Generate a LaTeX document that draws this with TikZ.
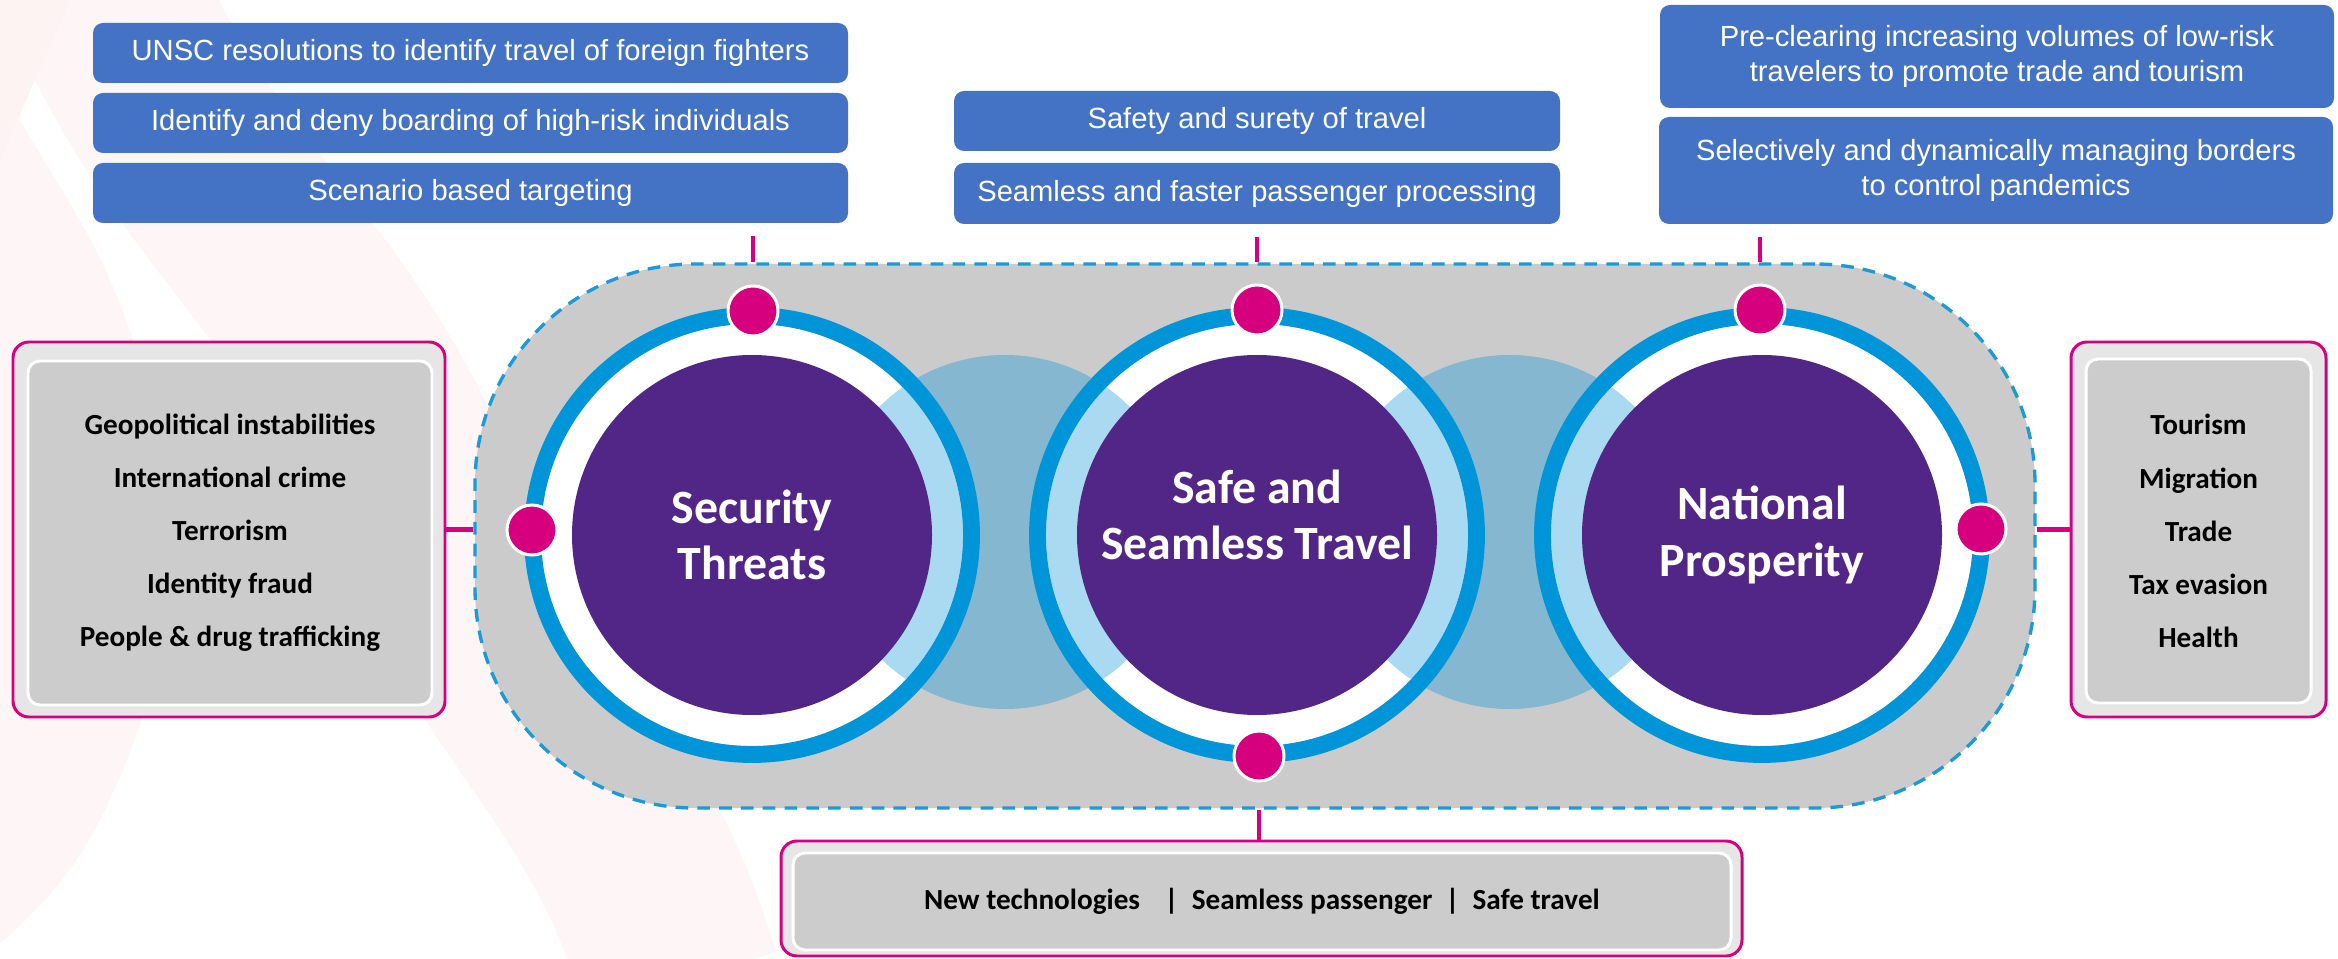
\documentclass[tikz,border=0pt]{standalone}
\usepackage{fontspec}
\setmainfont{Liberation Sans}
\newfontfamily\calib{Carlito}
\usetikzlibrary{calc}

\definecolor{boxblue}{RGB}{68,114,196}
\definecolor{hubgray}{RGB}{203,203,203}
\definecolor{dashblue}{RGB}{27,154,214}
\definecolor{ringblue}{RGB}{0,149,217}
\definecolor{paleblue}{RGB}{169,218,242}
\definecolor{tealblue}{RGB}{133,183,209}
\definecolor{deeppurple}{RGB}{82,38,134}
\definecolor{pinkline}{RGB}{214,0,127}
\definecolor{outergray}{RGB}{230,230,230}
\definecolor{innergray}{RGB}{204,204,204}
\definecolor{swoosh}{RGB}{253,245,246}

\begin{document}
\begin{tikzpicture}[
        tag/.style={fill=boxblue, rounded corners=0.1cm, text=white, inner sep=0pt,
            font=\fontsize{8.3}{10}\selectfont, align=center},
        panel/.style={draw=pinkline, line width=0.85pt, fill=outergray, rounded corners=0.16cm, inner sep=0pt},
        inset/.style={draw=white, line width=0.85pt, fill=innergray, rounded corners=0.12cm, inner sep=0pt,
            font=\calib\bfseries\fontsize{8.3}{15.1}\selectfont, align=center},
        hub/.style={draw=dashblue, fill=hubgray, line width=0.95pt, dash pattern=on 3.6pt off 2.6pt,
            rounded corners=2.2cm, inner sep=0pt},
        ring/.style={draw=ringblue, line width=4.8pt},
        core/.style={circle, fill=deeppurple, minimum size=3.6cm, inner sep=0pt},
        corelabel/.style={text=white, font=\calib\bfseries\fontsize{13.6}{16}\selectfont, align=center},
        dot/.style={circle, fill=pinkline, draw=white, line width=0.85pt, minimum size=0.5cm, inner sep=0pt},
        link/.style={pinkline, line width=1.3pt}
    ]
    \useasboundingbox (0,0) rectangle (23.38,-9.59);

    % faint background swooshes
    \fill[swoosh] (0,-9.43) to[out=40,in=-110] (1.43,-7.17)
        to[out=70,in=-90] (1.6,-5) to[out=90,in=-70] (1.26,-3.2)
        to[out=110,in=-60] (0.2,-1.2) -- (0,-1.2) -- cycle;
    \draw[swoosh, line width=2cm] (1.0,0.2) to[out=-68,in=112] (4.2,-5) to[out=-68,in=106] (6.8,-9.8);
    \fill[swoosh!80!pink!60] (0,0) -- (0.7,0) -- (0,-1.6) -- cycle;

    % hub
    \node[hub, minimum width=15.6cm, minimum height=5.44cm] (hub) at (12.55,-5.36) {};

    % overlaps between the circles
    \fill[tealblue] (10.045,-5.32) circle (1.77);
    \fill[tealblue] (15.095,-5.32) circle (1.77);

    % security threats
    \fill[white] (7.52,-5.35) circle (2.11);
    \begin{scope}
        \clip (7.52,-5.35) circle (2.11);
        \fill[paleblue] (10.045,-5.32) circle (1.77);
    \end{scope}
    \draw[ring] (7.52,-5.35) circle (2.195);
    \node[core] (threat) at (7.52,-5.35) {};
    \node[corelabel] (threatlabel) at (threat) {Security\\Threats};

    % safe and seamless travel
    \fill[white] (12.57,-5.35) circle (2.11);
    \begin{scope}
        \clip (12.57,-5.35) circle (2.11);
        \fill[paleblue] (10.045,-5.32) circle (1.77);
        \fill[paleblue] (15.095,-5.32) circle (1.77);
    \end{scope}
    \draw[ring] (12.57,-5.35) circle (2.195);
    \node[core] (travel) at (12.57,-5.35) {};
    \node[corelabel] (travellabel) at ($(travel)+(0,0.2)$) {Safe and\\Seamless Travel};

    % national prosperity
    \fill[white] (17.62,-5.35) circle (2.11);
    \begin{scope}
        \clip (17.62,-5.35) circle (2.11);
        \fill[paleblue] (15.095,-5.32) circle (1.77);
    \end{scope}
    \draw[ring] (17.62,-5.35) circle (2.195);
    \node[core] (prosper) at (17.62,-5.35) {};
    \node[corelabel] (prosperlabel) at (prosper) {National\\Prosperity};

    % dots on the rings
    \node[dot] (threattop) at ($(threat)+(0.01,2.24)$) {};
    \node[dot] (threatleft) at ($(threat)+(-2.2,0.05)$) {};
    \node[dot] (traveltop) at ($(travel)+(0,2.25)$) {};
    \node[dot] (travelbottom) at ($(travel)+(0.02,-2.21)$) {};
    \node[dot] (prospertop) at ($(prosper)+(-0.02,2.25)$) {};
    \node[dot] (prosperright) at ($(prosper)+(2.19,0.06)$) {};

    % blue tags
    \node[tag, minimum width=7.55cm, minimum height=0.6cm] (unsc) at (4.705,-0.53)
        {UNSC resolutions to identify travel of foreign fighters};
    \node[tag, minimum width=7.55cm, minimum height=0.6cm] (deny) at (4.705,-1.23)
        {Identify and deny boarding of high-risk individuals};
    \node[tag, minimum width=7.55cm, minimum height=0.6cm] (scenario) at (4.705,-1.93)
        {Scenario based targeting};

    \node[tag, minimum width=6.06cm, minimum height=0.6cm] (surety) at (12.57,-1.21)
        {Safety and surety of travel};
    \node[tag, minimum width=6.06cm, minimum height=0.61cm] (faster) at (12.57,-1.935)
        {Seamless and faster passenger processing};

    \node[tag, minimum width=6.74cm, minimum height=1.03cm] (preclear) at (19.97,-0.565)
        {Pre-clearing increasing volumes of low-risk\\travelers to promote trade and tourism};
    \node[tag, minimum width=6.74cm, minimum height=1.07cm] (pandemic) at (19.96,-1.705)
        {Selectively and dynamically managing borders\\to control pandemics};

    % gray panels
    \node[panel, minimum width=4.32cm, minimum height=3.75cm] (threatpanel) at (2.29,-5.295) {};
    \node[inset, minimum width=4.04cm, minimum height=3.44cm] (threatlist) at (2.30,-5.33)
        {Geopolitical instabilities\\International crime\\Terrorism\\Identity fraud\\People \& drug trafficking};

    \node[panel, minimum width=2.55cm, minimum height=3.75cm] (prosperpanel) at (21.985,-5.295) {};
    \node[inset, minimum width=2.25cm, minimum height=3.44cm] (prosperlist) at (21.985,-5.31)
        {Tourism\\Migration\\Trade\\Tax evasion\\Health};

    \node[panel, minimum width=9.61cm, minimum height=1.15cm] (travelpanel) at (12.615,-8.985) {};
    \node[inset, minimum width=9.38cm, minimum height=0.97cm] (travellist) at (12.62,-9.015)
        {New technologies \ \ \,|\ \ Seamless passenger \ |\ \ Safe travel};

    % connectors
    \draw[link] ($(threattop |- scenario.south)+(0,-0.12)$) -- (threattop |- hub.north);
    \draw[link] ($(traveltop |- faster.south)+(0,-0.12)$) -- (traveltop |- hub.north);
    \draw[link] ($(prospertop |- pandemic.south)+(0,-0.12)$) -- (prospertop |- hub.north);
    \draw[link] (threatpanel.east) -- (threatpanel.east -| hub.west);
    \draw[link] (hub.east |- prosperpanel.west) -- (prosperpanel.west);
    \draw[link] (travelbottom |- hub.south) -- (travelbottom |- travelpanel.north);
\end{tikzpicture}
\end{document}
